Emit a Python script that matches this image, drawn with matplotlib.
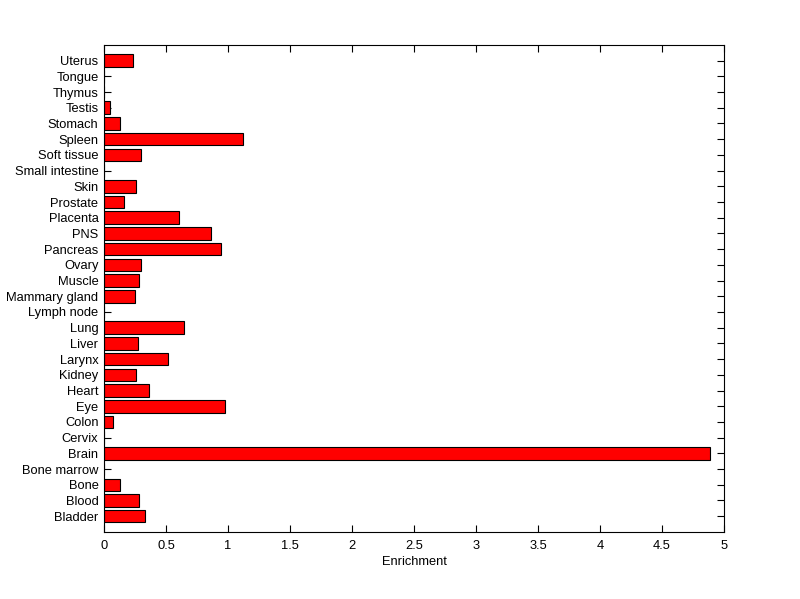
import matplotlib
matplotlib.use('Agg')
from matplotlib import pyplot as plt

# tissues, bottom to top
tissues = ['Bladder', 'Blood', 'Bone', 'Bone marrow', 'Brain', 'Cervix', 'Colon',
           'Eye', 'Heart', 'Kidney', 'Larynx', 'Liver', 'Lung', 'Lymph node',
           'Mammary gland', 'Muscle', 'Ovary', 'Pancreas', 'PNS', 'Placenta',
           'Prostate', 'Skin', 'Small intestine', 'Soft tissue', 'Spleen',
           'Stomach', 'Testis', 'Thymus', 'Tongue', 'Uterus']
enrichment = [0.334, 0.285, 0.13, 0.0, 4.89, 0.0, 0.076,
              0.979, 0.366, 0.26, 0.519, 0.277, 0.648, 0.0,
              0.253, 0.285, 0.30, 0.947, 0.866, 0.608,
              0.164, 0.26, 0.0, 0.30, 1.124,
              0.13, 0.048, 0.0, 0.0, 0.237]
xticks = [0, 0.5, 1, 1.5, 2, 2.5, 3, 3.5, 4, 4.5, 5]

plt.rcParams['font.family'] = ['Liberation Sans', 'DejaVu Sans']
plt.rcParams['font.size'] = 9.3

fig = plt.figure(figsize=(8, 5.99), dpi=100)
ax = fig.add_axes([0.13, 0.112, 0.775, 0.813])

pos = list(range(1, len(tissues) + 1))
ax.barh(pos, enrichment, height=0.8, color='#ff0000', edgecolor='black', linewidth=0.8)
ax.set_axisbelow(True)

ax.set_xlim(0, 5)
ax.set_ylim(0, len(tissues) + 1)
ax.set_xticks(xticks)
ax.set_xticklabels([('%g' % t) for t in xticks])
ax.set_yticks(pos)
ax.set_yticklabels(tissues)
ax.set_xlabel('Enrichment', labelpad=3)

ax.tick_params(direction='in', length=5, width=0.8, top=True, right=True)
ax.tick_params(axis='x', pad=6)
ax.tick_params(axis='y', pad=4)
for s in ax.spines.values():
    s.set_linewidth(0.8)

fig.savefig('out.png', dpi=100)
